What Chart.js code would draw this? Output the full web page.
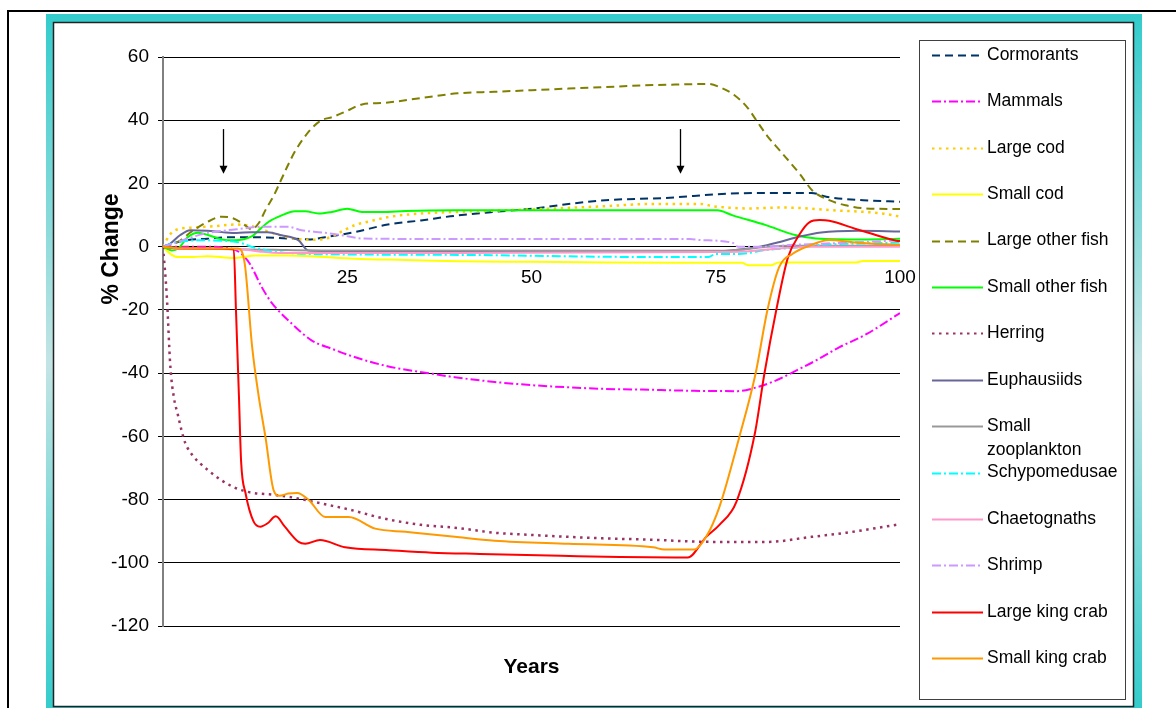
<!DOCTYPE html>
<html><head><meta charset="utf-8">
<script src="https://cdn.jsdelivr.net/npm/chart.js@4"></script>
<style>html,body{margin:0;padding:0;background:#fff;overflow:hidden}canvas{display:block}</style>
</head><body>
<canvas id="c" width="1176" height="708"></canvas>
<script>
// ---- DATA: [year, % change] knots ----
const cormorants = [[0,0],[3,2],[6,2.5],[9,3],[12.5,3],[17,2.6],[20,2.3],[22,3],[26,4.6],[30.5,7],[35,8.3],[39,9.6],[45,11],[50,12],[55,13.5],[60,14.7],[68,15.4],[77,16.8],[84,17],[88,17],[90,15.8],[95,14.7],[100,14.2]];
const mammals = [[0,0],[5,0],[9,-0.5],[10.5,-2],[11.8,-5.5],[13.4,-12.8],[14.7,-17.6],[17.5,-24.4],[20.2,-29.7],[22.9,-32.3],[26.1,-35],[30.6,-37.9],[35.1,-39.7],[39.6,-41.3],[45,-42.8],[50,-43.8],[55,-44.5],[60,-45],[65,-45.2],[72,-45.6],[78,-45.7],[80.4,-44.6],[83.2,-42.3],[85.9,-39.2],[88.6,-36],[91.8,-31.8],[95.5,-27.6],[100,-21]];
const largeCod = [[0,0],[1,4],[2,5.5],[4,6],[7,6.5],[10,7],[12,6.5],[14,5],[16,3.5],[18,2.5],[20,2.2],[22,2.5],[24,4.5],[26,6.8],[28,8],[30.6,9.4],[35,10.5],[40,11],[50,11.8],[60,12.8],[66,13.5],[73,13.5],[74.6,12.8],[79.6,12.1],[84,12.4],[91,11.5],[97.6,10.5],[100,9.5]];
const smallCod = [[0,0],[1,-2.3],[2,-3.3],[4,-3.3],[6,-3],[9.6,-3.6],[12.6,-2.8],[17,-2.8],[20,-3],[26,-3.8],[33,-4.2],[40,-4.6],[50,-4.8],[60,-5],[70,-5.1],[78.5,-5.1],[79.5,-5.9],[82.5,-5.9],[83.5,-5],[94,-5],[95,-4.5],[100,-4.5]];
const largeOtherFish = [[0,0],[2,1.5],[4,5],[6,7.8],[8,9.5],[9.5,9],[11,7],[12,5.5],[13,7.5],[14,12],[15,16],[16,21],[17,26],[18,30.5],[20,37],[21.5,40],[23,41],[25,43],[27,45],[30,45.5],[35,47],[40,48.5],[45,49],[50,49.5],[55,50],[60,50.5],[65,51],[70,51.3],[74,51.5],[75.5,50.5],[77.5,48],[79.3,44],[80.5,40],[82,35],[83.7,30.4],[86.4,23],[88.1,17.8],[90.4,14.7],[92.6,13.1],[95.4,12.1],[100,11.9]];
const smallOtherFish = [[0,0],[1.2,-1.2],[2.1,-0.5],[3.4,3.1],[4.8,4.4],[6.2,3.6],[8,2.3],[9.6,2],[12.1,3.3],[13,5.2],[14.3,7.8],[16.1,9.9],[17.9,11.2],[19.3,11.2],[21.1,10.5],[22.9,11],[25,12],[27,11],[29.8,11],[32.9,11.3],[39.6,11.5],[75.2,11.5],[77.3,9.9],[81.8,6.8],[85.9,3.6],[88.6,2.6],[95.4,2.3],[100,2.5]];
const herring = [[0,0],[0.5,-15],[1,-38],[1.5,-48],[2,-53],[2.5,-58],[3,-62],[4,-66],[5,-68.5],[6,-70.5],[8,-74],[10,-76.5],[12,-77.8],[15,-78.5],[18,-79.5],[20,-80.5],[22,-81.5],[25,-83],[30,-86],[35,-88],[40,-89],[45,-90.5],[50,-91.2],[55,-91.8],[60,-92.3],[65,-92.6],[75,-93.4],[82,-93.4],[88,-91.8],[92.7,-90.5],[96.3,-89.2],[100,-87.8]];
const euphausiids = [[0,0],[1,1],[2.3,3.6],[3.7,5.2],[6,5],[8,4.6],[10,4.3],[12,4.6],[14.2,4.6],[16.1,3.6],[18.4,2],[19.7,-1.2],[26,-1.4],[76,-1.4],[78,-1],[81,0],[83.7,1.5],[86.4,3.2],[89.3,4.5],[94.4,5],[100,4.8]];
const smallZooplankton = [[0,0],[3,-0.5],[10,-0.8],[15,-1],[20,-1.2],[76,-1.3],[79,-0.8],[82,0],[85,0.3],[100,0.3]];
const schypomedusae = [[0,0],[2,1.5],[5,2],[10,1.5],[12,0],[15,-1.5],[20,-2.3],[40,-2.6],[60,-3.2],[74,-3.3],[75,-2.3],[78,-2.3],[82,-1],[86,-0.3],[89,0.5],[95,1],[100,1.3]];
const chaetognaths = [[0,0],[2,-0.7],[10,-0.7],[13,-1.5],[16,-2],[40,-2],[75,-1.7],[79,-1.5],[84,-0.5],[88,0],[100,0]];
const shrimp = [[0,0],[2,1.5],[3.4,2.6],[5.4,4],[8,5],[10,5.5],[13.4,6.3],[17,6.3],[18.8,5.2],[21.6,4.5],[24.3,3.6],[27,2.6],[40,2.4],[71.5,2.4],[72.8,2.1],[77.3,1.2],[78,0],[82,0],[85,0.5],[90,1],[100,2]];
const largeKingCrab = [[0,0],[2,-0.5],[9.6,-0.8],[9.9,-20],[10.3,-47],[10.6,-68],[11.2,-78],[12.3,-87],[13.2,-88.6],[14.2,-87.5],[15.3,-85.3],[16.5,-88.5],[18.4,-93.4],[19.3,-94],[21.3,-92.8],[24.7,-95.1],[30.6,-96],[36.5,-96.8],[43,-97.2],[54,-97.8],[62,-98.2],[71.2,-98.3],[73.7,-91.8],[75.5,-88],[77.8,-80.7],[80.3,-59.2],[81.6,-40.2],[83.2,-20.2],[84.8,-3.4],[86.4,4],[87.7,7.7],[89.1,8.4],[90.4,8.2],[94,5.6],[96.3,4],[99.5,1.9],[100,1.8]];
const smallKingCrab = [[0,0],[2,-0.5],[10.2,-0.6],[11.1,-5.5],[12.1,-31.8],[13,-47.6],[13.9,-60.2],[15,-77],[15.8,-78.8],[17,-78.1],[18.2,-77.9],[19.8,-80.2],[22,-85.5],[25.2,-85.5],[28.8,-89.2],[32.9,-90.2],[39.6,-91.8],[45,-93],[55,-94],[66.5,-95.1],[68,-95.8],[72.1,-95.8],[73.7,-91.8],[75.5,-82.3],[78.2,-60.2],[80.4,-40.2],[82,-20.2],[83.6,-6.5],[85.4,-2.3],[87.7,0.3],[90.4,2.1],[93.6,1.4],[96.3,0.9],[100,0.6]];

const seriesNames = ['Cormorants','Mammals','Large cod','Small cod','Large other fish','Small other fish','Herring','Euphausiids','Small zooplankton','Schypomedusae','Chaetognaths','Shrimp','Large king crab','Small king crab'];
const seriesData = [cormorants,mammals,largeCod,smallCod,largeOtherFish,smallOtherFish,herring,euphausiids,smallZooplankton,schypomedusae,chaetognaths,shrimp,largeKingCrab,smallKingCrab];

const yTicks = [60,40,20,0,-20,-40,-60,-80,-100,-120];
const xTicks = [25,50,75,100];
const arrowYears = [8.2, 70.1];
const arrowFrom = 37.2, arrowTo = 23.1;

// ---- STYLES ----
const seriesColors = ['#003366','#FF00FF','#FFCC00','#FFFF00','#808000','#00FF00','#993366','#666699','#999999','#00FFFF','#FF99CC','#CC99FF','#FF0000','#FF9900'];
const DASH=[8,5], DOT=[2.5,4.5], DASHDOT=[9,3,2,3];
const seriesDashes = [DASH,DASHDOT,DOT,[],DASH,[],DOT,[],[],DASHDOT,[],DASHDOT,[],[]];
const seriesWidths = [2,2,2.5,2,2,2,2.5,2,2,2,2,2,2,2];
const FONT = '"Liberation Sans", Arial, sans-serif';

const datasets = seriesNames.map((name,i)=>({
  label: name,
  data: seriesData[i].map(p=>({x:p[0],y:p[1]})),
  borderColor: seriesColors[i],
  backgroundColor: seriesColors[i],
  borderWidth: seriesWidths[i],
  borderDash: seriesDashes[i],
  borderCapStyle: 'butt',
  pointRadius: 0,
  fill: false,
  cubicInterpolationMode: 'monotone',
  order: seriesNames.length - i
}));

const framePlugin = {
  id: 'frame',
  beforeDraw(chart){
    const c = chart.ctx, W = chart.width, H = chart.height;
    c.save();
    c.fillStyle = '#fff'; c.fillRect(0,0,W,H);
    c.fillStyle = '#000';
    c.fillRect(8,10,W-8,2);
    c.fillRect(7,10,2,H-10);
    const g = c.createLinearGradient(0,14,0,712);
    g.addColorStop(0,'#33CCCC'); g.addColorStop(0.5,'#C4E4E4'); g.addColorStop(1,'#33CCCC');
    c.fillStyle = g;
    c.fillRect(46,14,1142-46,H-14+4);
    c.fillStyle = '#fff';
    c.fillRect(53,22,1133-53,706-22);
    c.strokeStyle = '#222'; c.lineWidth = 1.5;
    c.strokeRect(53.5,22.5,1133-53,706-22);
    c.restore();
  }
};

const overlayPlugin = {
  id: 'overlay',
  afterDraw(chart){
    const c = chart.ctx, xs = chart.scales.x, ys = chart.scales.y;
    c.save();
    c.strokeStyle = '#000'; c.fillStyle = '#000'; c.lineWidth = 1.3;
    arrowYears.forEach(yr=>{
      const x = Math.round(xs.getPixelForValue(yr))+0.5;
      const y1 = ys.getPixelForValue(arrowFrom), y2 = ys.getPixelForValue(arrowTo);
      c.beginPath(); c.moveTo(x,y1); c.lineTo(x,y2-7); c.stroke();
      c.beginPath(); c.moveTo(x-4,y2-8); c.lineTo(x+4,y2-8); c.lineTo(x,y2); c.closePath(); c.fill();
    });
    c.fillStyle = '#000';
    c.font = 'bold 21px ' + FONT;
    c.textAlign = 'center'; c.textBaseline = 'middle';
    c.fillText('Years', (xs.left+xs.right)/2, 667);
    c.save();
    c.translate(112, 249); c.rotate(-Math.PI/2);
    c.font = 'bold 23px ' + FONT;
    c.fillText('% Change', 0, 0);
    c.restore();
    const L = 919.5, T = 40.5, R = 1125.5, B = 699.5;
    c.fillStyle = '#fff'; c.fillRect(L,T,R-L,B-T);
    c.strokeStyle = '#404040'; c.lineWidth = 1; c.strokeRect(L,T,R-L,B-T);
    c.font = '17.5px ' + FONT; c.textAlign = 'left'; c.textBaseline = 'middle';
    chart.data.datasets.forEach((ds,i)=>{
      const y = 55 + i*46.4;
      c.save();
      c.strokeStyle = ds.borderColor; c.lineWidth = 2; c.setLineDash(ds.borderDash||[]); c.lineCap='butt';
      c.beginPath(); c.moveTo(932, Math.round(y)+0.5); c.lineTo(983, Math.round(y)+0.5); c.stroke();
      c.restore();
      c.fillStyle = '#000';
      const maxW = 135;
      if (c.measureText(ds.label).width > maxW) {
        const words = ds.label.split(' ');
        c.fillText(words[0], 987, y);
        c.fillText(words.slice(1).join(' '), 987, y+24);
      } else {
        c.fillText(ds.label, 987, y);
      }
    });
    c.restore();
  }
};

new Chart(document.getElementById('c'), {
  type: 'line',
  data: { datasets },
  options: {
    responsive: false, animation: false, devicePixelRatio: 1,
    layout: { padding: { left: 60, top: 57, right: 276, bottom: 82 } },
    plugins: { legend: { display: false }, tooltip: { enabled: false }, title: { display: false } },
    elements: { point: { radius: 0 }, line: { tension: 0.4 } },
    scales: {
      x: {
        type: 'linear', min: 0, max: 100, position: { y: 0 },
        grid: { display: false, drawTicks: false },
        border: { display: false },
        afterBuildTicks: s => { s.ticks = xTicks.map(v=>({value:v})); },
        ticks: { padding: 20, color: '#000', font: { family: FONT, size: 19 }, maxRotation: 0, autoSkip: false }
      },
      y: {
        type: 'linear', min: -120, max: 60,
        afterBuildTicks: s => { s.ticks = yTicks.slice().reverse().map(v=>({value:v})); },
        afterFit: s => { s.width = 103; },
        grid: { color: '#000', lineWidth: 1, tickLength: 5, tickColor: '#000' },
        border: { display: true, color: '#808080', width: 2 },
        ticks: { padding: 9, color: '#000', font: { family: FONT, size: 19 } }
      }
    }
  },
  plugins: [framePlugin, overlayPlugin]
});
</script>
</body></html>
